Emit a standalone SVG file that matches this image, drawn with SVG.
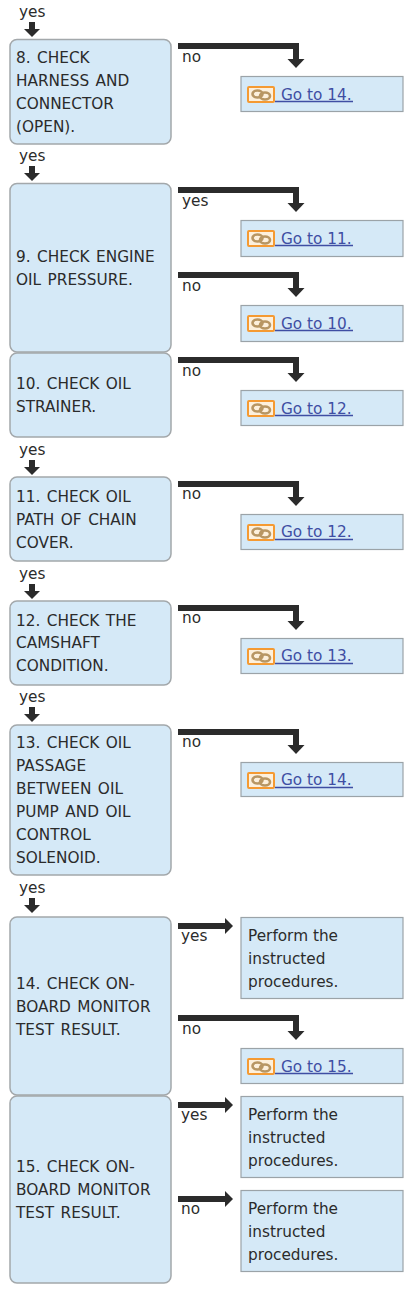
<svg xmlns="http://www.w3.org/2000/svg" width="413" height="1293" viewBox="0 0 413 1293">
<style>
text{font-family:"DejaVu Sans",Verdana,sans-serif;font-size:15.3px;fill:#2b2b2b}
.cap text{word-spacing:1.6px}
.step{fill:#d5e9f7;stroke:#a3a8ab;stroke-width:1.5}
.res{fill:#d5e9f7;stroke:#9ba3a8;stroke-width:1.2}
.lnk{fill:#3f4ea3}
.ln{stroke:#3f4ea3;stroke-width:1.3}
.ar{fill:none;stroke:#2b2b2b;stroke-width:6}
.hd{fill:#2b2b2b}
</style>
<defs>
<g id="down"><path class="ar" d="M32 22v8"/><path class="hd" d="M24 29h16l-8 8z"/></g>
<g id="elbow"><path class="ar" d="M178 46H296V60"/><path class="hd" d="M287.500 59h17l-8.500 9z"/></g>
<g id="straight"><path class="ar" d="M178 926H228"/><path class="hd" d="M225 918l8 8-8 8z"/></g>
<g id="link">
<rect x="248" y="87" width="26" height="15" rx="1" fill="#fdf0dc" stroke="#f59a32" stroke-width="2"/>
<ellipse cx="257.500" cy="94" rx="5" ry="3.500" fill="none" stroke="#b89663" stroke-width="2.600"/>
<ellipse cx="265" cy="96" rx="5" ry="3.500" fill="none" stroke="#b89663" stroke-width="2.600"/>
<path class="ln" d="M275 101.500h78"/>
</g>
</defs>

<g id="connectors">
<text x="19" y="17">yes</text><use href="#down"/>
<use href="#elbow"/>
<text x="182" y="62">no</text>
<text x="19" y="161">yes</text><use href="#down" y="144"/>
<use href="#elbow" y="144"/>
<text x="182" y="206">yes</text>
<use href="#elbow" y="229"/>
<text x="182" y="291">no</text>
<use href="#elbow" y="314"/>
<text x="182" y="376">no</text>
<text x="19" y="455">yes</text><use href="#down" y="438"/>
<use href="#elbow" y="438"/>
<text x="182" y="499">no</text>
<text x="19" y="579">yes</text><use href="#down" y="562"/>
<use href="#elbow" y="562"/>
<text x="182" y="623">no</text>
<text x="19" y="702">yes</text><use href="#down" y="685"/>
<use href="#elbow" y="686"/>
<text x="182" y="747">no</text>
<text x="19" y="893">yes</text><use href="#down" y="876"/>
<use href="#straight"/>
<text x="181" y="941">yes</text>
<use href="#elbow" y="972"/>
<text x="182" y="1034">no</text>
<use href="#straight" y="179"/>
<text x="181" y="1120">yes</text>
<use href="#straight" y="273"/>
<text x="181" y="1214">no</text>
</g>

<g id="n8" class="cap"><rect class="step" x="10" y="39.500" width="161" height="104.500" rx="7"/><text x="16" y="63">8. CHECK</text><text x="16" y="86">HARNESS AND</text><text x="16" y="109">CONNECTOR</text><text x="16" y="132">(OPEN).</text></g>
<g id="n9" class="cap"><rect class="step" x="10" y="183.500" width="161" height="168.500" rx="7"/><text x="16" y="262">9. CHECK ENGINE</text><text x="16" y="285">OIL PRESSURE.</text></g>
<g id="n10" class="cap"><rect class="step" x="10" y="353" width="161" height="84" rx="7"/><text x="16" y="389">10. CHECK OIL</text><text x="16" y="412">STRAINER.</text></g>
<g id="n11" class="cap"><rect class="step" x="10" y="477" width="161" height="84" rx="7"/><text x="16" y="502">11. CHECK OIL</text><text x="16" y="525">PATH OF CHAIN</text><text x="16" y="548">COVER.</text></g>
<g id="n12" class="cap"><rect class="step" x="10" y="601" width="161" height="84" rx="7"/><text x="16" y="626">12. CHECK THE</text><text x="16" y="648">CAMSHAFT</text><text x="16" y="671">CONDITION.</text></g>
<g id="n13" class="cap"><rect class="step" x="10" y="725" width="161" height="150" rx="7"/><text x="16" y="748">13. CHECK OIL</text><text x="16" y="771">PASSAGE</text><text x="16" y="794">BETWEEN OIL</text><text x="16" y="817">PUMP AND OIL</text><text x="16" y="840">CONTROL</text><text x="16" y="863">SOLENOID.</text></g>
<g id="n14" class="cap"><rect class="step" x="10" y="917" width="161" height="178" rx="7"/><text x="16" y="989">14. CHECK ON-</text><text x="16" y="1012">BOARD MONITOR</text><text x="16" y="1035">TEST RESULT.</text></g>
<g id="n15" class="cap"><rect class="step" x="10" y="1096" width="161" height="187" rx="7"/><text x="16" y="1172">15. CHECK ON-</text><text x="16" y="1195">BOARD MONITOR</text><text x="16" y="1218">TEST RESULT.</text></g>

<g id="r14a"><rect class="res" x="241" y="76.500" width="162" height="35"/><use href="#link"/><text class="lnk" x="281" y="100">Go to 14.</text></g>
<g id="r11"><rect class="res" x="241" y="220.500" width="162" height="36"/><use href="#link" y="144"/><text class="lnk" x="281" y="244">Go to 11.</text></g>
<g id="r10"><rect class="res" x="241" y="305.500" width="162" height="36"/><use href="#link" y="229"/><text class="lnk" x="281" y="329">Go to 10.</text></g>
<g id="r12a"><rect class="res" x="241" y="390.500" width="162" height="35"/><use href="#link" y="314"/><text class="lnk" x="281" y="414">Go to 12.</text></g>
<g id="r12b"><rect class="res" x="241" y="514.500" width="162" height="35"/><use href="#link" y="438"/><text class="lnk" x="281" y="537">Go to 12.</text></g>
<g id="r13"><rect class="res" x="241" y="638.500" width="162" height="35"/><use href="#link" y="562"/><text class="lnk" x="281" y="661">Go to 13.</text></g>
<g id="r14b"><rect class="res" x="241" y="762.500" width="162" height="34"/><use href="#link" y="686"/><text class="lnk" x="281" y="785">Go to 14.</text></g>
<g id="p14"><rect class="res" x="241" y="917.500" width="162" height="81"/><text x="248" y="941">Perform the</text><text x="248" y="964">instructed</text><text x="248" y="987">procedures.</text></g>
<g id="r15"><rect class="res" x="241" y="1048.500" width="162" height="35"/><use href="#link" y="972"/><text class="lnk" x="281" y="1072">Go to 15.</text></g>
<g id="p15a"><rect class="res" x="241" y="1096.500" width="162" height="81"/><text x="248" y="1120">Perform the</text><text x="248" y="1143">instructed</text><text x="248" y="1166">procedures.</text></g>
<g id="p15b"><rect class="res" x="241" y="1190.500" width="162" height="81"/><text x="248" y="1214">Perform the</text><text x="248" y="1237">instructed</text><text x="248" y="1260">procedures.</text></g>
</svg>
